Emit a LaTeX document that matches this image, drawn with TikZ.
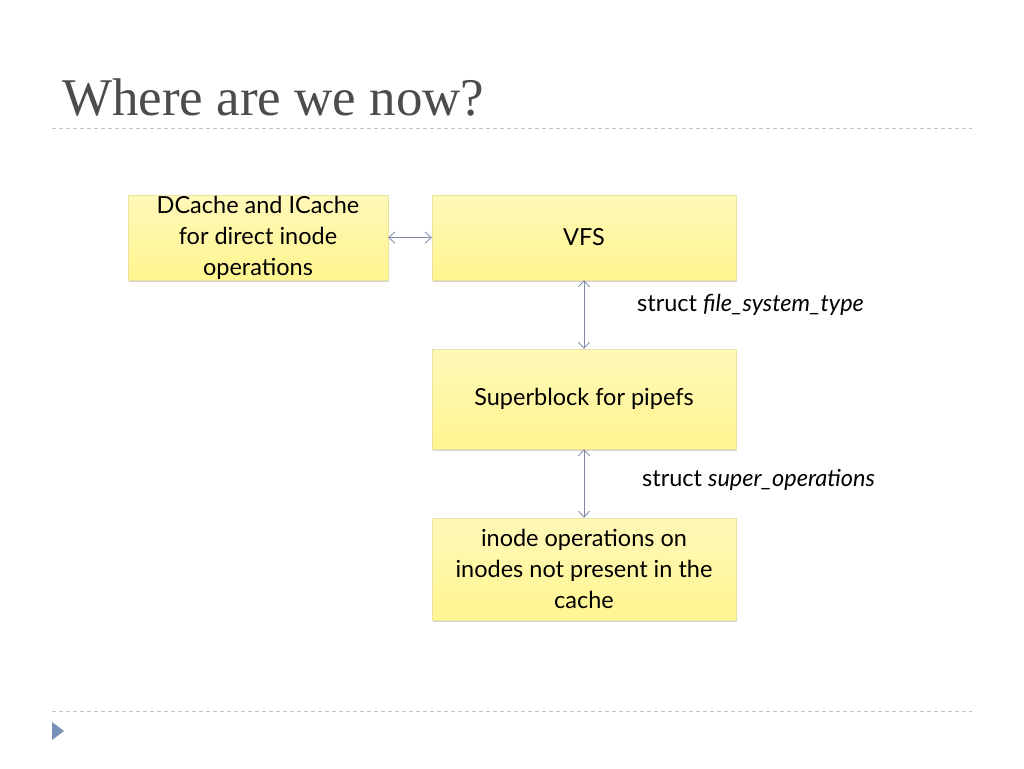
\documentclass[tikz,border=0pt]{standalone}
\usepackage{fontspec}
\setmainfont{Lato}
\newfontfamily\titlefont{Liberation Serif}
\usetikzlibrary{arrows.meta,shadows}
\definecolor{boxfill}{HTML}{FFF590}
\definecolor{boxtop}{HTML}{FFF8B8}
\definecolor{boxedge}{HTML}{EDE3A0}
\definecolor{dashc}{HTML}{B8C4D0}
\definecolor{arr}{HTML}{8088A8}
\definecolor{bullet}{HTML}{7890B8}
\begin{document}
\begin{tikzpicture}[x=1pt,y=-1pt,
  box/.style={draw=boxedge,top color=boxtop,bottom color=boxfill,drop shadow={shadow xshift=1pt,shadow yshift=-2pt,opacity=0.35},align=center,font=\fontsize{23.5}{31}\selectfont,inner sep=0pt},
  link/.style={draw=arr,line width=0.8pt,{Straight Barb[length=6pt,width=11pt]}-{Straight Barb[length=6pt,width=11pt]}},
  lbl/.style={anchor=west,font=\fontsize{23.5}{28}\selectfont,inner sep=0pt}]
\useasboundingbox (0,0) rectangle (1024,768);
\fill[white] (0,0) rectangle (1024,768);
\node[anchor=west,text=black!70,font=\titlefont\fontsize{53}{60}\selectfont,inner sep=0pt] (title) at (62,98) {Where are we now?};
\draw[dashc,dash pattern=on 4pt off 3pt,line width=0.8pt] (52,128) -- (972,128);
\draw[dashc,dash pattern=on 4pt off 3pt,line width=0.8pt] (52,711) -- (972,711);
\fill[bullet] (52,722) -- (64,731) -- (52,740) -- cycle;
\node[box,minimum width=260pt,minimum height=85pt] (dc) at (258,237.5) {DCache and ICache\\for direct inode\\operations};
\node[box,minimum width=304pt,minimum height=85pt] (vfs) at (584,237.5) {VFS};
\node[box,minimum width=304pt,minimum height=100pt] (sb) at (584,399) {Superblock for pipefs};
\node[box,minimum width=304pt,minimum height=102pt] (ino) at (584,569) {inode operations on\\inodes not present in the\\cache};
\draw[link] (dc) -- (vfs);
\draw[link] (vfs) -- (sb);
\draw[link] (sb) -- (ino);
\node[lbl] (l1) at (637,305) {struct \textit{file\_system\_type}};
\node[lbl] (l2) at (642,480) {struct \textit{super\_operations}};
\end{tikzpicture}
\end{document}
